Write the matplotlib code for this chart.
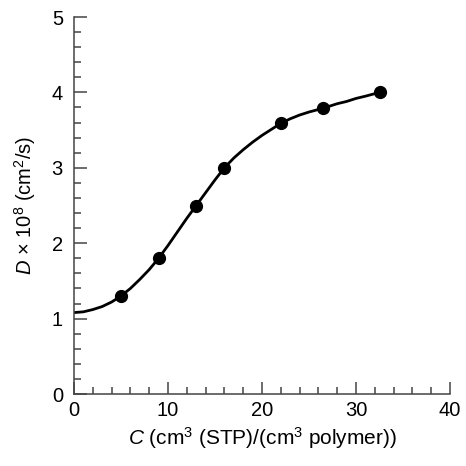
import matplotlib
matplotlib.use('Agg')
import matplotlib.pyplot as plt
from matplotlib.ticker import MultipleLocator

plt.rcParams['font.family'] = 'Liberation Sans'
plt.rcParams['mathtext.fontset'] = 'custom'
plt.rcParams['mathtext.rm'] = 'Liberation Sans'
plt.rcParams['mathtext.it'] = 'Liberation Sans:italic'

# measured points
conc = [5, 9, 13, 16, 22, 26.5, 32.5]
diff = [1.30, 1.80, 2.50, 3.00, 3.60, 3.79, 4.00]

# fitted curve
curve_x = [0, 1, 2, 3, 4, 5, 6, 7, 8, 9, 10, 11, 12, 13, 14, 15, 16,
           17, 18, 19, 20, 21, 22, 23, 24, 25, 26.5, 28, 29, 30, 31, 32.5]
curve_y = [1.08, 1.09, 1.12, 1.16, 1.22, 1.30, 1.40, 1.52, 1.65, 1.80,
           1.97, 2.15, 2.33, 2.50, 2.67, 2.84, 3.00, 3.13, 3.24, 3.34,
           3.43, 3.51, 3.59, 3.65, 3.70, 3.74, 3.79, 3.85, 3.88, 3.92,
           3.95, 4.00]

fig = plt.figure(figsize=(4.66, 4.66), dpi=100)
ax = fig.add_axes([0.1588, 0.1545, 0.8069, 0.809])

ax.plot(curve_x, curve_y, color='black', lw=2.0, solid_capstyle='round')
ax.plot(conc, diff, 'o', color='black', ms=8.5)

ax.set_xlim(0, 40)
ax.set_ylim(0, 5)
ax.xaxis.set_major_locator(MultipleLocator(10))
ax.xaxis.set_minor_locator(MultipleLocator(2))
ax.yaxis.set_major_locator(MultipleLocator(1))
ax.yaxis.set_minor_locator(MultipleLocator(0.2))

for s in ['top', 'right']:
    ax.spines[s].set_visible(False)
for s in ['left', 'bottom']:
    ax.spines[s].set_color('#444444')
    ax.spines[s].set_linewidth(1.1)

ax.tick_params(which='major', direction='in', length=9, width=1.1,
               color='#444444', labelsize=14.5)
ax.tick_params(axis='x', which='major', pad=5)
ax.tick_params(axis='y', which='major', pad=8)
ax.tick_params(which='minor', direction='in', length=5, width=1.1,
               color='#444444')

ax.set_xlabel(r'$\mathit{C}$ (cm$^3$ (STP)/(cm$^3$ polymer))', fontsize=15, labelpad=4)
ax.set_ylabel(r'$\mathit{D}$ × 10$^8$ (cm$^2$/s)', fontsize=14.5, labelpad=10)

fig.savefig('out.png', dpi=100)
